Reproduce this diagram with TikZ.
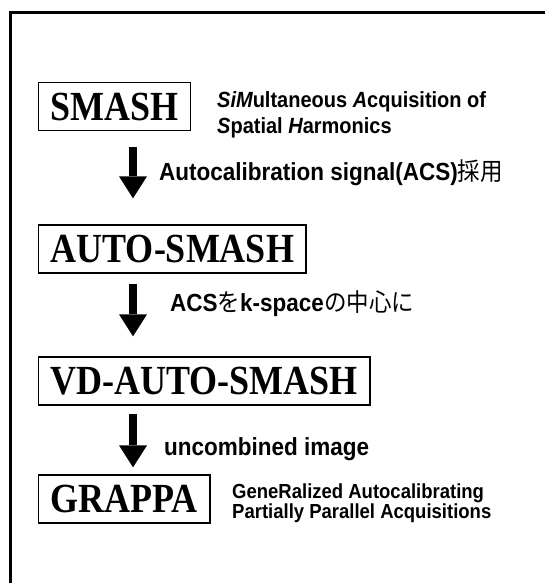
\documentclass[tikz,border=0pt]{standalone}
\usepackage{graphicx}
\usepackage{fontspec}
\newfontfamily\tnr{Liberation Serif}
\newfontfamily\ari{Liberation Sans}
\newfontfamily\cjk{Noto Sans CJK JP}
\usetikzlibrary{arrows.meta}
\newcommand{\ii}[1]{{\itshape #1}}
\newcommand{\jp}[1]{{\cjk\mdseries #1}}
\newcommand{\tall}[1]{\scalebox{1}[1.15]{#1}}
\newcommand{\talls}[1]{\scalebox{1}[1.1]{#1}}
\tikzset{
  box/.style={draw, line width=1.3pt, anchor=west, inner xsep=12pt, inner ysep=0pt,
    minimum height=48pt, font=\tnr\bfseries\fontsize{36}{40}\selectfont},
  lbl/.style={anchor=base west, inner sep=0pt, font=\ari\bfseries\fontsize{22.5}{26}\selectfont},
  desca/.style={anchor=base west, inner sep=0pt, font=\ari\bfseries\fontsize{20}{24}\selectfont},
  descb/.style={anchor=base west, inner sep=0pt, font=\ari\bfseries\fontsize{18.5}{22}\selectfont},
  bigarrow/.style={line width=8pt, -{Triangle[width=28pt,length=22pt,line width=0pt]}},
  frame/.style={line width=3pt}
}
\begin{document}
\begin{tikzpicture}[x=1pt,y=-1pt]
\useasboundingbox (0,0) rectangle (545,583);
\draw[frame] (10.5,585) -- (10.5,12.5) -- (547,12.5);
\node[box] (smash) at (38,106.5) {\tall{SMASH}};
\node[box] (auto) at (38,249) {\tall{AUTO-SMASH}};
\node[box] (vd) at (38,381) {\tall{VD-AUTO-SMASH}};
\node[box] (grappa) at (38,499) {\tall{GRAPPA}};
\coordinate (ax) at (133,0);
\draw[bigarrow, shorten <=16pt, shorten >=26pt] (smash.south -| ax) -- (auto.north -| ax);
\draw[bigarrow, shorten <=10pt, shorten >=20pt] (auto.south -| ax) -- (vd.north -| ax);
\draw[bigarrow, shorten <=8pt, shorten >=7pt] (vd.south -| ax) -- (grappa.north -| ax);
\node[lbl] (l1) at (159,180) {\talls{Autocalibration signal(ACS)\jp{採用}}};
\node[lbl] (l2) at (170,311) {\talls{ACS\jp{を}k-space\jp{の中心に}}};
\node[lbl] (l3) at (164,455) {\talls{uncombined image}};
\node[desca] (d1a) at (217,107) {\talls{\ii{Si}\ii{M}ultaneous \ii{A}cquisition of}};
\node[desca] (d1b) at (217,133) {\talls{\ii{S}patial \ii{H}armonics}};
\node[descb] (d4a) at (232,498) {\talls{GeneRalized Autocalibrating}};
\node[descb] (d4b) at (232,518) {\talls{Partially Parallel Acquisitions}};
\end{tikzpicture}
\end{document}
